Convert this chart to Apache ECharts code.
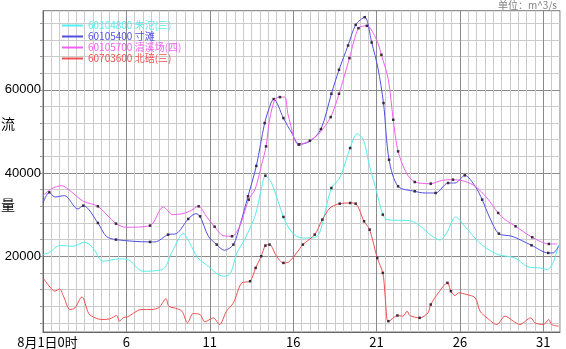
<!DOCTYPE html>
<html><head><meta charset="utf-8">
<script src="https://cdn.jsdelivr.net/npm/echarts@6/dist/echarts.min.js"></script>
<style>html,body{margin:0;padding:0;background:#fff}#c{width:566px;height:349px}</style>
</head><body><div id="c"></div>
<script>
// hours since 8月1日0时, value (m^3/s), marker flag
const seriesNames = ['60104800 朱沱(三)', '60105400 寸滩', '60105700 清溪场(四)', '60703600 北碚(三)'];
const seriesColors = ['#55EEEE', '#5050E0', '#F060F0', '#F05050'];
const zhutuo = [[0,20400],[10,21000],[24,22600],[43,22400],[60,23360],[72,22000],[86,18800],[110,19360],[122,19200],[144,16400],[173,16960],[185,20800],[202,25440],[211,23200],[223,19600],[238,17600],[252,15600],[262,15200],[270,16000],[279,20800],[290,24000],[305,29600],[314,36000],[320,39360,1],[329,37600],[346,29440,1],[358,25760],[372,24400],[389,24400],[398,25600],[415,36400,1],[427,38800],[442,46000,1],[452,49440],[461,48000],[470,41600],[480,35600],[489,30000,1],[495,28800],[514,28640],[528,28560],[542,27360],[557,25200],[571,23920],[581,25600],[594,29440],[607,27200],[631,22800],[655,20400],[679,19600],[698,17440],[715,17200],[726,16800],[734,18400],[742,22800]];
const cuntan = [[0,32800],[9,35360,1],[17,34240],[31,34560],[50,31360],[58,32160,1],[79,28000,1],[91,24800],[105,24000,1],[154,23440,1],[161,23440],[180,25200,1],[192,25440],[209,28960,1],[220,30240],[226,29600,1],[238,24800],[250,22800,1],[261,21440],[274,22800,1],[283,27200],[295,34400,1],[307,41700,1],[319,52000,1],[328,56800],[332,57760,1],[346,53200,1],[358,49600],[369,46900,1],[384,47600],[400,50560,1],[415,59040,1],[426,64800,1],[439,70640,1],[450,75600,1],[463,77440,1],[473,71360,1],[482,65200],[490,56800,1],[498,43200,1],[511,36800,1],[535,35600,1],[550,35200],[565,35200,1],[583,37600,1],[593,37600],[607,39440,1],[622,36800],[632,33600,1],[643,29200],[656,25440,1],[675,24800],[703,22640,1],[727,20800,1],[734,20800],[742,22400]];
const qingxichang = [[0,34560],[12,36200],[27,36960],[40,35600],[58,33200],[79,32000,1],[105,27840,1],[120,26960],[154,27360,1],[173,31840],[187,30000],[200,30200],[211,30800],[224,32000,1],[235,29600],[247,27100,1],[259,24960],[272,24800,1],[283,27200],[296,33600,1],[305,36000],[314,41600],[321,46400,1],[326,52800],[334,57760],[341,58240,1],[348,58240],[353,53760],[368,46800,1],[384,47760,1],[398,49600],[414,53440,1],[426,59040,1],[441,67600,1],[454,74800,1],[466,75360,1],[480,72000],[487,68400,1],[497,62400],[504,52800,1],[511,45200,1],[523,40000],[535,37840,1],[558,37440,1],[574,38240],[590,38400,1],[607,38000],[622,36800],[639,34000],[655,30400,1],[665,28800],[680,27200,1],[704,24560,1],[728,22960,1],[740,22960]];
const beibei = [[0,14800],[10,12600],[17,11600],[24,12160],[29,10600],[39,7200],[46,7600],[56,10240],[66,6200],[75,5200],[85,4800],[96,4960],[106,5760],[110,4400],[116,5300],[122,5440],[130,6300],[141,7200],[156,7200],[167,7700],[177,9800],[181,8000],[191,7500],[200,6800],[208,4000],[216,6240],[226,6000],[233,4240],[245,5200],[254,3600],[264,6800],[274,8800],[286,13600],[298,14000,1],[306,17200,1],[314,20000,1],[320,22560,1],[326,22800,1],[336,20000],[346,18400,1],[353,18560],[365,20800],[374,22800,1],[391,25200,1],[402,28800,1],[413,31600],[427,32640,1],[442,32800,1],[450,32640,1],[462,28400,1],[470,26400,1],[481,19600,1],[489,16000,1],[492,11200],[495,4800],[497,4400,1],[510,5760,1],[518,5600],[524,6800],[528,5760],[542,5200,1],[554,6400],[558,8400,1],[569,11200],[582,13600,1],[587,11600,1],[593,10560],[598,11200],[610,10800],[622,10000],[629,6800],[639,5200],[653,3600],[665,5600],[677,4400],[686,3600],[702,5200],[708,4000],[720,3600],[728,4800],[732,3600],[742,3200]];
const xLabelHours = [0,120,240,360,480,600,720];
const xLabels = ['8月1日0时','6','11','16','21','26','31'];
const yLabelValues = [20000,40000,60000];
const yGridValues = [4000,8000,12000,16000,20000,24000,28000,32000,36000,40000,44000,48000,52000,56000,60000,64000,68000,72000,76000];

const allData = [zhutuo, cuntan, qingxichang, beibei];
function build(arr){
  return arr.map(p => p[2] ? {value:[p[0],p[1]], symbol:'rect', symbolSize:2.5, itemStyle:{color:'#3a2a3a'}} : {value:[p[0],p[1]]});
}
const chart = echarts.init(document.getElementById('c'), null, {renderer:'canvas'});
const light = '#cbcbcb', dark = '#8a8a8a';
chart.setOption({
  animation:false,
  backgroundColor:'#fff',
  textStyle:{fontFamily:'Liberation Sans, "Noto Sans CJK SC", sans-serif'},
  grid:{left:43, right:6, top:10.7, bottom:16.3, show:true, borderColor:'#777', borderWidth:1, backgroundColor:'#fff'},
  legend:{
    left:57, top:15, orient:'vertical', itemGap:0, itemWidth:21, itemHeight:2, icon:'rect',
    selectedMode:false,
    textStyle:{fontSize:10, lineHeight:11, fontFamily:'"Noto Sans CJK SC", sans-serif', padding:[0,0,0,0]},
    data: seriesNames.map((n,i)=>({name:n, textStyle:{color:seriesColors[i]}}))
  },
  xAxis:{
    type:'value', min:0, max:744, interval:12,
    axisLine:{lineStyle:{color:'#666'}},
    axisTick:{show:false},
    axisLabel:{
      customValues:xLabelHours, margin:4, color:'#000', fontSize:13, fontFamily:'"Noto Sans CJK SC", sans-serif',
      formatter:(v)=>{const i=xLabelHours.indexOf(v); return i===0?'{f|'+xLabels[0]+'}':(i>0?xLabels[i]:'');},
      rich:{f:{padding:[0,0,0,9], fontSize:13, color:'#000', fontFamily:'"Noto Sans CJK SC", sans-serif'}}
    },
    splitLine:{show:true, lineStyle:{width:1, color:[dark,light,light,light,light,light,light,light,light,light]}}
  },
  yAxis:{
    type:'value', min:1800, max:79000,
    axisLine:{show:true, lineStyle:{color:'#666'}},
    axisTick:{show:true, customValues:yGridValues, length:3, lineStyle:{color:'#999'}},
    axisLabel:{customValues:yLabelValues, margin:2, color:'#000', fontSize:13, formatter:(v)=>String(v)},
    splitLine:{show:true, lineStyle:{width:1, color:[light,light,light,light,dark]}}
  },
  graphic:[
    {type:'text', right:9, top:0, style:{text:'单位：m^3/s', fill:'#808080', font:'10px "Noto Sans CJK SC", sans-serif'}},
    {type:'text', left:1, top:117, style:{text:'流', fill:'#000', font:'14px "Noto Sans CJK SC", sans-serif'}},
    {type:'text', left:1, top:198, style:{text:'量', fill:'#000', font:'14px "Noto Sans CJK SC", sans-serif'}}
  ],
  series: allData.map((d,i)=>({
    name:seriesNames[i], type:'line', data:build(d), smooth:0.3,
    symbol:'none', showSymbol:true, color:seriesColors[i],
    lineStyle:{width:1, color:seriesColors[i]}, emphasis:{disabled:true}, silent:true, z:2+i
  }))
});
</script></body></html>
